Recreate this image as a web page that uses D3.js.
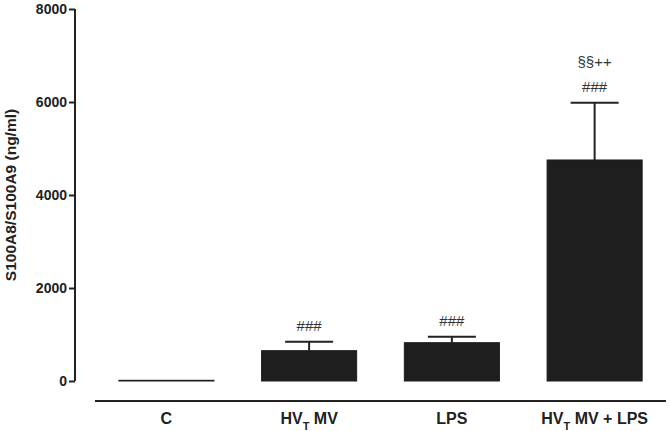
<!DOCTYPE html>
<html>
<head>
<meta charset="utf-8">
<script src="https://cdn.jsdelivr.net/npm/d3@7"></script>
<style>
  body { margin: 0; background: #fff; }
  svg { display: block; }
  .axis text { font-family: "Liberation Sans", Arial, sans-serif; font-weight: bold; font-size: 14px; fill: #222; }
</style>
</head>
<body>
<svg id="chart" width="670" height="431"></svg>
<script>
// chart data
const groups = ['C', 'HVT MV', 'LPS', 'HVT MV + LPS'];
const means = [15, 652, 824, 4753];
const errors = [0, 193, 129, 1232];
const marksLow = ['', '###', '###', '###'];
const marksHigh = ['', '', '', '§§++'];
const yTicks = [0, 2000, 4000, 6000, 8000];

const svg = d3.select('#chart');
const ink = '#222';

const x = d3.scaleBand()
    .domain(groups)
    .range([95, 666])
    .paddingInner(0.327)
    .paddingOuter(0.1635);

const y = d3.scaleLinear()
    .domain([0, 8000])
    .range([381, 9]);

// y axis
const yAxis = svg.append('g')
    .attr('class', 'axis')
    .attr('transform', 'translate(75,0)')
    .call(d3.axisLeft(y).tickValues(yTicks).tickFormat(d3.format('d')).tickSize(6).tickPadding(2));
yAxis.select('.domain').attr('stroke', ink).attr('stroke-width', 2).attr('d', `M0,${y(8000)}V${y(0)}`);
yAxis.selectAll('.tick line').attr('stroke', ink).attr('stroke-width', 2);

svg.append('text')
    .attr('transform', `translate(16,${(y(0) + y(8000)) / 2}) rotate(-90)`)
    .attr('text-anchor', 'middle')
    .style('font-family', '"Liberation Sans", Arial, sans-serif')
    .style('font-weight', 'bold')
    .style('font-size', '15.5px')
    .attr('fill', ink)
    .text('S100A8/S100A9 (ng/ml)');

// separate x axis line below the bars
svg.append('line')
    .attr('x1', x.range()[0]).attr('x2', x.range()[1])
    .attr('y1', 401).attr('y2', 401)
    .attr('stroke', ink).attr('stroke-width', 2);

// category labels (HVT -> HV with subscript T)
const labels = svg.append('g').attr('class', 'axis');
groups.forEach(g => {
    const t = labels.append('text')
        .attr('x', x(g) + x.bandwidth() / 2)
        .attr('y', 424)
        .attr('text-anchor', 'middle')
        .style('font-size', '16px');
    if (g.startsWith('HVT')) {
        t.append('tspan').text('HV');
        t.append('tspan').text('T').attr('baseline-shift', 'sub').style('font-size', '11px');
        t.append('tspan').text(g.slice(3));
    } else {
        t.text(g);
    }
});

// error bars (drawn first so the bar covers the stem)
const err = svg.append('g');
groups.forEach((g, i) => {
    if (!errors[i]) return;
    const cx = x(g) + x.bandwidth() / 2;
    const top = y(means[i] + errors[i]);
    err.append('line')
        .attr('x1', cx).attr('x2', cx)
        .attr('y1', y(means[i])).attr('y2', top)
        .attr('stroke', ink).attr('stroke-width', 2);
    err.append('line')
        .attr('x1', cx - x.bandwidth() / 4).attr('x2', cx + x.bandwidth() / 4)
        .attr('y1', top).attr('y2', top)
        .attr('stroke', ink).attr('stroke-width', 2);
});

// bars
svg.append('g').selectAll('rect')
    .data(groups)
    .join('rect')
    .attr('x', d => x(d) + 0.5)
    .attr('width', x.bandwidth() - 1)
    .attr('y', (d, i) => y(means[i]))
    .attr('height', (d, i) => y(0) - y(means[i]))
    .attr('fill', '#1e1e1e')
    .attr('stroke', '#1e1e1e')
    .attr('stroke-width', 1);

// significance marks
const marks = svg.append('g')
    .style('font-family', '"Liberation Sans", Arial, sans-serif')
    .style('font-size', '15px')
    .attr('fill', '#333')
    .attr('text-anchor', 'middle');
groups.forEach((g, i) => {
    const cx = x(g) + x.bandwidth() / 2;
    const top = y(means[i] + errors[i]);
    if (marksLow[i]) marks.append('text').attr('x', cx).attr('y', top - 11).text(marksLow[i]);
    if (marksHigh[i]) marks.append('text').attr('x', cx).attr('y', top - 36).text(marksHigh[i]);
});
</script>
</body>
</html>
